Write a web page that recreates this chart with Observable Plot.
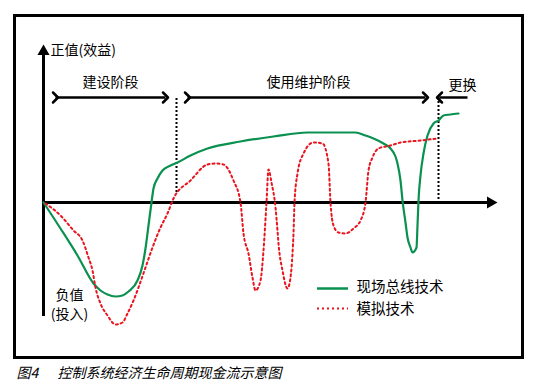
<!DOCTYPE html>
<html><head><meta charset="utf-8">
<script src="https://cdn.jsdelivr.net/npm/d3@7"></script>
<script src="https://cdn.jsdelivr.net/npm/@observablehq/plot@0.6"></script>
<style>body{margin:0;background:#fff}</style>
</head><body><div id="chart"></div>
<script>
// time (life cycle) and cash-flow value
const fieldbusTime  = [0,17,34,50,57,64,72,79,85,94,99,102,105,108,110,114,119,127,134,147,164,197,230,264,297,312,322,330,340,347,352,354,357,359,362,364,367,369,373,374,375,377,380,384,390,395,400,407,415];
const fieldbusValue = [0,-26,-53,-81,-88,-92,-94,-93,-89,-78,-63,-46,-23,0,14,24,32,37,40,47,54,61,66,70,70,70,67,64,59,54,46,39,22,2,-20,-35,-45,-50,-45,-23,2,27,49,67,79,82,87,88,89];
const analogTime  = [2,17,30,39,45,49,52,57,64,72,79,84,90,95,102,109,117,124,130,147,164,172,180,190,197,200,205,209,212,217,220,223,225,228,232,234,235,239,244,247,249,250,251,254,260,270,279,285,287,290,295,302,310,317,322,325,329,335,347,357,377,394];
const analogValue = [-1,-13,-28,-38,-55,-68,-85,-101,-113,-122,-120,-111,-98,-85,-65,-45,-25,-11,4,22,38,39,38,22,0,-31,-51,-75,-88,-78,-48,0,33,20,-5,-28,-41,-68,-86,-75,-51,-31,0,29,49,60,59,39,0,-23,-30,-31,-26,-18,0,32,45,54,57,60,62,64];
const seriesNames = ["现场总线技术", "模拟技术"];
const phaseNames = ["建设阶段", "使用维护阶段", "更换"];
const phaseFrom = [12, 144, 424];
const phaseTo   = [122, 382, 396];
const phaseMid  = [67, 265, 419];
const phaseBoundaries = [133, 395];
const axisLabels = ["正值(效益)", "负值", "(投入)"];
const captionNum = "图4";
const captionText = "控制系统经济生命周期现金流示意图";

const fieldbus = fieldbusTime.map((t,i)=>({t, v: fieldbusValue[i]}));
const analog = analogTime.map((t,i)=>({t, v: analogValue[i]}));
const font = "'Noto Sans CJK SC', sans-serif";
const green = "#0a9150", red = "#e8141e";

const chart = Plot.plot({
  width: 540, height: 390,
  marginLeft: 14, marginRight: 18, marginTop: 15, marginBottom: 33,
  x: {domain: [-29, 479], axis: null},
  y: {domain: [-155, 187], axis: null},
  style: {background: "#fff", fontFamily: font},
  marks: [
    Plot.frame({stroke: "#000", strokeWidth: 3}),
    // axes
    Plot.ruleX([0], {y1: -114, y2: 150, stroke: "#000", strokeWidth: 3}),
    Plot.ruleY([0], {x1: 0, x2: 446, stroke: "#000", strokeWidth: 3}),
    Plot.dot([{t:0, v:151}], {x:"t", y:"v", symbol:"triangle", r:4.5, fill:"#000", stroke:null}),
    Plot.dot([{t:447, v:0}], {x:"t", y:"v", symbol:"triangle", r:4.5, fill:"#000", stroke:null, rotate:90}),
    // phase arrows
    Plot.link([0,1], {x1: i=>phaseFrom[i], x2: i=>phaseTo[i], y1: 105, y2: 105, stroke:"#000", strokeWidth:2.5, markerStart:"arrow", markerEnd:"arrow"}),
    Plot.link([2], {x1: i=>phaseFrom[i], x2: i=>phaseTo[i], y1: 105, y2: 105, stroke:"#000", strokeWidth:2.5, markerEnd:"arrow"}),
    Plot.ruleX(phaseBoundaries, {y1: [104,105], y2: [10,2], stroke:"#000", strokeWidth:2, strokeDasharray:"2,2"}),
    Plot.text(phaseNames, {x: (d,i)=>phaseMid[i], y: [120,120,117], text: d=>d, fontSize: 14, fill:"#000"}),
    // axis labels
    Plot.text([axisLabels[0]], {x: 7, y: 152, text: d=>d, textAnchor:"start", fontSize:14, fill:"#000"}),
    Plot.text([axisLabels[1]], {x: 26, y: -93, text: d=>d, fontSize:14, fill:"#000"}),
    Plot.text([axisLabels[2]], {x: 26, y: -112, text: d=>d, fontSize:14, fill:"#000"}),
    // series
    Plot.line(fieldbus, {x:"t", y:"v", stroke: green, strokeWidth: 2.2, curve:"monotone-x"}),
    Plot.line(analog, {x:"t", y:"v", stroke: red, strokeWidth: 2, strokeDasharray:"2,3", curve:"monotone-x"}),
    // legend
    Plot.ruleY([-86], {x1: 274, x2: 305, stroke: green, strokeWidth: 2.5}),
    Plot.ruleY([-106], {x1: 274, x2: 305, stroke: red, strokeWidth: 2, strokeDasharray:"2,3"}),
    Plot.text([seriesNames[0]], {x: 313, y: -85, text:d=>d, textAnchor:"start", fontSize:14.5, fill:"#000"}),
    Plot.text([seriesNames[1]], {x: 313, y: -107, text:d=>d, textAnchor:"start", fontSize:14.5, fill:"#000"}),
    // caption
    Plot.text([captionNum], {x: -27, y: -171, text:d=>d, textAnchor:"start", fontSize:14, fontStyle:"italic", fill:"#000"}),
    Plot.text([captionText], {x: 14, y: -171, text:d=>d, textAnchor:"start", fontSize:14, fontStyle:"italic", fill:"#000"})
  ]
});
document.getElementById("chart").appendChild(chart);
</script>
</body></html>
